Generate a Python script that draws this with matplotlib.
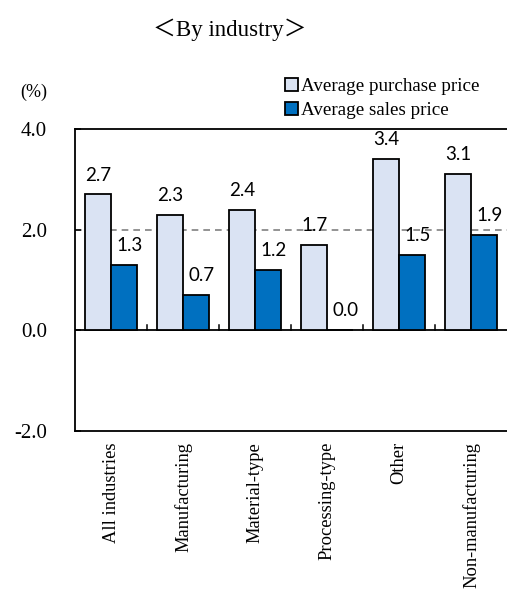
import matplotlib
matplotlib.use("Agg")
import matplotlib.pyplot as plt
import numpy as np

categories = ["All industries", "Manufacturing", "Material-type",
              "Processing-type", "Other", "Non-manufacturing"]
purchase = [2.7, 2.3, 2.4, 1.7, 3.4, 3.1]
sales = [1.3, 0.7, 1.2, 0.0, 1.5, 1.9]
series_names = ["Average purchase price", "Average sales price"]
y_ticks = [-2.0, 0.0, 2.0, 4.0]

SERIF = ["Liberation Serif", "DejaVu Serif"]
LABEL_FONT = ["Lato", "DejaVu Sans"]
LIGHT = "#DAE3F3"
DARK = "#0070C0"

fig = plt.figure(figsize=(5.07, 5.90), dpi=100)
ax = fig.add_axes([75 / 507, 1 - 431 / 590, 432 / 507, 302 / 590])

x = np.arange(len(categories))
w = 0.355
b1 = ax.bar(x - w / 2, purchase, w, color=LIGHT, edgecolor="black",
            linewidth=1.3, zorder=3, label=series_names[0])
b2 = ax.bar(x + w / 2, sales, w, color=DARK, edgecolor="black",
            linewidth=1.3, zorder=3, label=series_names[1])

# value labels above each bar
for rect, v in zip(b1, purchase):
    ax.annotate(f"{v:.1f}", (rect.get_x() + rect.get_width() / 2, v),
                xytext=(0, 10), textcoords="offset points",
                ha="center", va="baseline", fontsize=13.5,
                family=LABEL_FONT, zorder=5)
for rect, v in zip(b2, sales):
    ax.annotate(f"{v:.1f}", (rect.get_x() + rect.get_width() / 2, v),
                xytext=(4, 10), textcoords="offset points",
                ha="center", va="baseline", fontsize=13.5,
                family=LABEL_FONT, zorder=5)

# reference line at 2% and zero line
ax.axhline(2.0, color="#808080", linestyle=(0, (4, 3)), linewidth=1.2,
           zorder=1)
ax.axhline(0.0, color="black", linewidth=1.3, zorder=2)

# short separators between categories on the zero line
for b in x[1:] - 0.5:
    ax.plot([b, b], [0, 0.1], color="black", linewidth=1.1, zorder=4)

ax.set_xlim(-0.5, len(categories) - 0.5)
ax.set_ylim(-2.0, 4.0)
ax.set_yticks(y_ticks)
ax.set_yticklabels([f"{t:.1f}" for t in y_ticks], family=SERIF, fontsize=15)
ax.tick_params(axis="y", direction="in", length=4, width=1.1, pad=20)

ax.set_xticks(x)
ax.set_xticklabels(categories, rotation=90, family=SERIF, fontsize=13.3,
                   va="top", ha="center")
ax.tick_params(axis="x", length=0, pad=8)

for s in ["left", "top", "bottom"]:
    ax.spines[s].set_linewidth(1.3)
ax.spines["right"].set_visible(False)

fig.text(0.04, 1 - 92 / 590, "(%)", family=SERIF, fontsize=13,
         ha="left", va="center")
fig.text(230 / 507, 1 - 30 / 590, "＜By industry＞",
         family=["Liberation Serif", "Noto Sans CJK JP"], fontsize=16.5,
         ha="center", va="center")

leg = fig.legend(handles=[b1, b2], labels=series_names,
                 loc="upper left", bbox_to_anchor=(285 / 507, 1 - 78 / 590),
                 frameon=False, prop={"family": SERIF, "size": 13.7},
                 handlelength=0.7, handleheight=0.7, handletextpad=0.15,
                 labelspacing=0.35, borderpad=0, borderaxespad=0)

fig.savefig("out.png", dpi=100)
